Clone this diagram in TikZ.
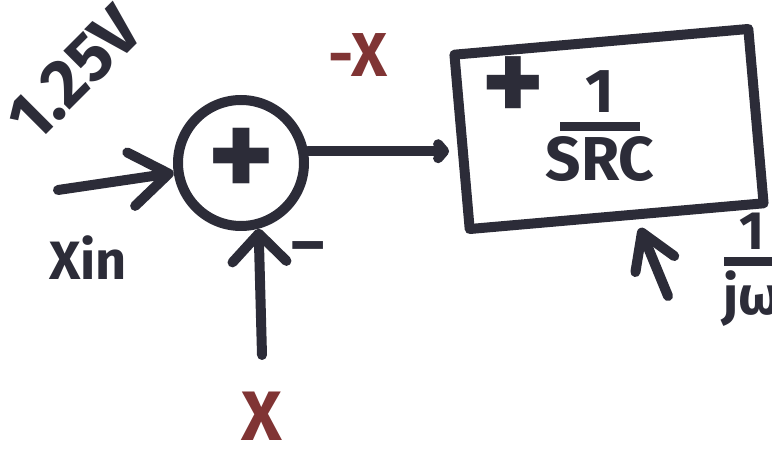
\documentclass[tikz,border=0pt]{standalone}
\usepackage{fontspec}
\setmainfont{Fira Sans}
\usetikzlibrary{arrows.meta}
\definecolor{inkcol}{RGB}{44,44,56}
\definecolor{redink}{RGB}{128,52,52}
\newcommand{\sketchfrac}[3]{{\renewcommand{\arraystretch}{0.3}%
  \begin{tabular}{@{}c@{}}#1\\\rule{#3}{9pt}\\#2\end{tabular}}}

\begin{document}
\begin{tikzpicture}[x=1pt,y=-1pt,
  pen/.style={draw=inkcol,line width=10pt,line cap=round,line join=round},
  sketcharrow/.style={pen,-{Straight Barb[round,length=38pt,width=54pt]}},
  hand/.style={text=inkcol,font=\bfseries\fontsize{#1}{#1}\selectfont,inner sep=0pt},
  hand/.default=56pt]
  \useasboundingbox (0,0) rectangle (772,457);
  \clip (0,0) rectangle (772,457);

  % summing junction and block
  \node[pen,circle,minimum size=126pt,hand=128pt] (sum) at (241,163) {+};
  \node[pen,rectangle,rotate=5,minimum width=295pt,minimum height=175pt] (blk) at (609,129) {};
  \node[hand=120pt] (gainplus) at (513,90) {+};
  \node[hand=62pt] (gain) at (600,128) {\sketchfrac{1}{SRC}{80pt}};

  % labels
  \node[hand=68pt,rotate=45] (vref) at (74,74) {1.25V};
  \node[hand=54pt] (xinlbl) at (88,258) {Xin};
  \node[hand=62pt,text=redink] (negx) at (358,55) {-X};
  \node[hand=70pt,text=redink] (fblbl) at (262,416) {X};
  \node[hand=64pt] (minus) at (308,254) {–};
  \node[hand=54pt] (jwlbl) at (752,270) {\sketchfrac{1}{jω}{56pt}};

  % connectors
  \coordinate (xin) at (58,190);
  \coordinate (xfb) at (262,355);
  \coordinate (jwtail) at (668,296);
  \coordinate (jwtip) at (640,228);
  \draw[sketcharrow] (xin) -- (sum);
  \draw[sketcharrow,-{Straight Barb[round,length=28pt,width=54pt]}] (xfb) -- (sum.-75);
  \draw[pen,-{Straight Barb[round,length=6pt,width=14pt]},shorten >=8pt] (sum.10) -- (sum.10 -| blk.west);
  \draw[sketcharrow,-{Straight Barb[round,length=34pt,width=42pt]}] (jwtail) -- (jwtip);
\end{tikzpicture}
\end{document}
